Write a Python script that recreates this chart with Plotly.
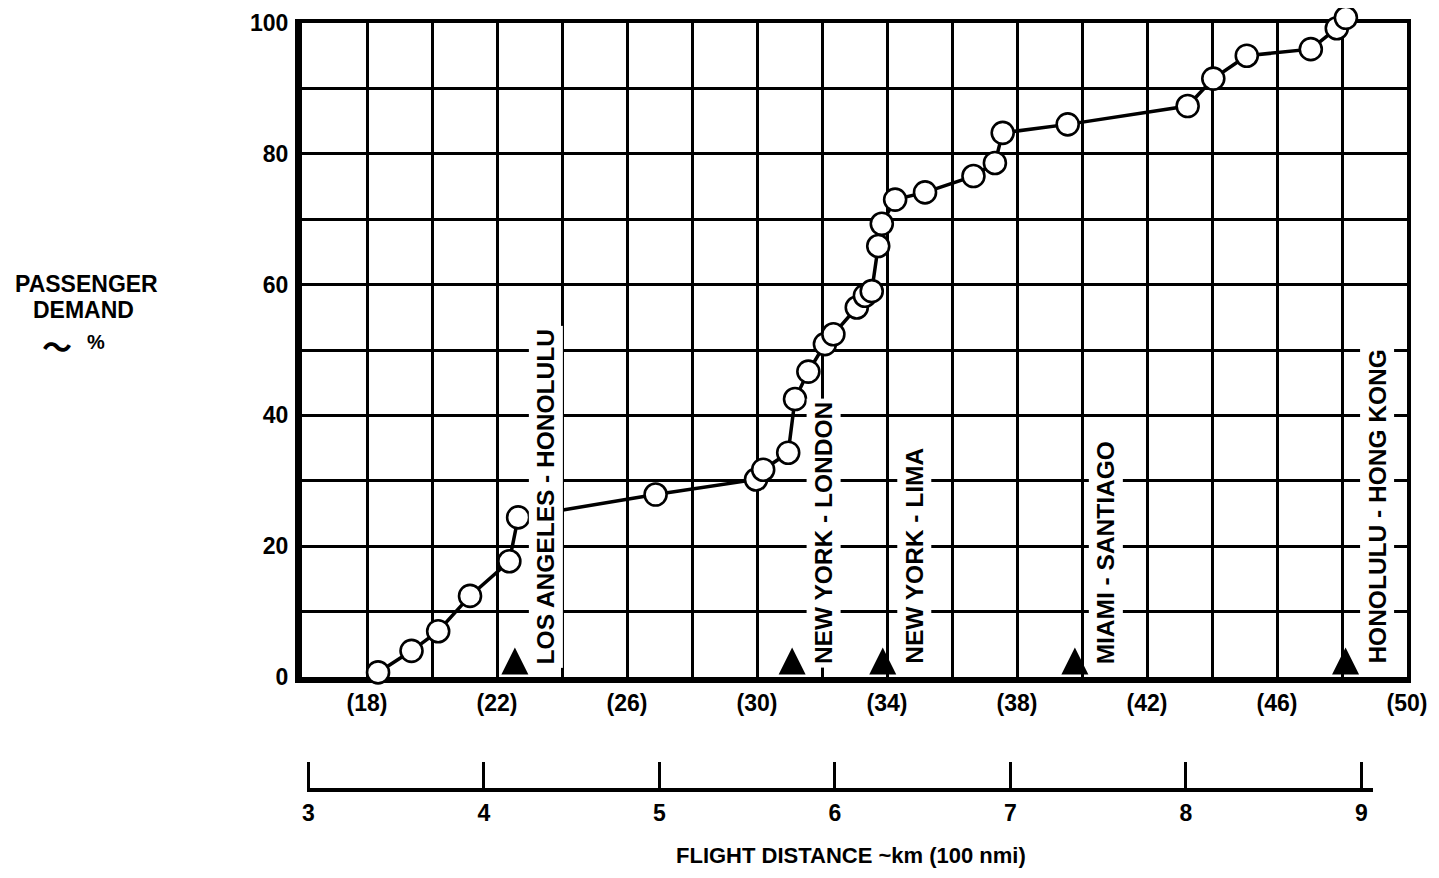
import plotly.graph_objects as go

# ---------------- data ----------------
distance_nmi = [1834, 1937, 2019, 2117, 2238, 2265, 2688, 2997, 3019, 3096,
                3117, 3158, 3209, 3235, 3307, 3332, 3353, 3373, 3384, 3425,
                3517, 3666, 3732, 3756, 3956, 4325, 4404, 4507, 4704, 4784, 4812]
demand_pct = [0.7, 4.0, 7.0, 12.4, 17.7, 24.4, 27.9, 30.2, 31.7, 34.3,
              42.5, 46.7, 50.9, 52.4, 56.5, 58.3, 59.0, 65.9, 69.3, 73.0,
              74.1, 76.6, 78.6, 83.2, 84.5, 87.3, 91.5, 95.0, 96.0, 99.2, 100.8]

route_names = ["LOS ANGELES - HONOLULU", "NEW YORK - LONDON", "NEW YORK - LIMA",
               "MIAMI - SANTIAGO", "HONOLULU - HONG KONG"]
route_nmi = [2255, 3108, 3387, 3978, 4811]

nmi_tick_vals = [1800, 2200, 2600, 3000, 3400, 3800, 4200, 4600, 5000]
nmi_tick_text = ["(18)", "(22)", "(26)", "(30)", "(34)", "(38)", "(42)", "(46)", "(50)"]
km_tick_vals = [3, 4, 5, 6, 7, 8, 9]          # thousands of km
km_tick_text = ["3", "4", "5", "6", "7", "8", "9"]
y_tick_vals = [0, 20, 40, 60, 80, 100]

# ---------------- layout geometry ----------------
PAGE_OFF = 8                      # default body margin of the html page
W, H = 1439 - 2 * PAGE_OFF, 878 - 2 * PAGE_OFF


def fx(px):   # reference page x -> figure x
    return px - PAGE_OFF


def fy(py):   # reference page y -> figure y
    return py - PAGE_OFF


ML = fx(302)
MR = W - fx(1407)
MT = 0
MB = 12
PLOT_W = W - ML - MR
PAPER_H = H - MT - MB
X_RANGE = [1600, 5000]
Y_RANGE = [0, 100]
NMI_TO_KM = 1.852
FONT = "Liberation Sans, Arial, sans-serif"


def paper_x(px):
    return (fx(px) - ML) / PLOT_W


def paper_y(py):
    return (H - MB - fy(py)) / PAPER_H


def px_to_nmi(px):
    return X_RANGE[0] + (fx(px) - ML) / PLOT_W * (X_RANGE[1] - X_RANGE[0])


Y_TOP_PX, Y_BOT_PX = 23, 677
main_y_dom = [paper_y(Y_BOT_PX), paper_y(Y_TOP_PX)]
# marker axis: same scale, but reaching up to the top of the paper so that
# the point just above 100 % is not hidden
marker_y_top = Y_RANGE[1] * (Y_BOT_PX - (PAGE_OFF + MT)) / (Y_BOT_PX - Y_TOP_PX)
km_line_y = paper_y(788)
km_dom = [paper_x(307), paper_x(1373)]
km_range = [px_to_nmi(307) * NMI_TO_KM / 1000, px_to_nmi(1373) * NMI_TO_KM / 1000]

fig = go.Figure()

# connecting line
fig.add_trace(go.Scatter(
    x=distance_nmi, y=demand_pct, mode="lines",
    line=dict(color="black", width=3.5),
    cliponaxis=False, showlegend=False, hoverinfo="skip"))

# route markers (on the overlay axes that carry the grid and top/right frame)
fig.add_trace(go.Scatter(
    x=route_nmi, y=[4.5] * len(route_nmi), mode="markers",
    marker=dict(symbol="arrow-up", size=27, color="black", line=dict(width=0)),
    xaxis="x3", yaxis="y2",
    cliponaxis=False, showlegend=False, hoverinfo="skip"))

# open circles
fig.add_trace(go.Scatter(
    x=distance_nmi, y=demand_pct, mode="markers",
    marker=dict(size=22, color="white", line=dict(color="black", width=2.6)),
    xaxis="x", yaxis="y4",
    cliponaxis=False, showlegend=False, hoverinfo="skip"))

# km scale (secondary distance axis)
fig.add_trace(go.Scatter(
    x=km_tick_vals, y=[0] * len(km_tick_vals), mode="markers",
    marker=dict(size=1, opacity=0), xaxis="x2", yaxis="y3",
    showlegend=False, hoverinfo="skip"))

annotations = []
for name, d in zip(route_names, route_nmi):
    annotations.append(dict(
        x=d, y=0, xref="x", yref="y", text=name, showarrow=False,
        textangle=-90, xanchor="center", yanchor="bottom",
        xshift=31, yshift=9, bgcolor="white", borderpad=3,
        font=dict(family=FONT, size=24.5, color="black", weight="bold")))

for txt, px, py in [("PASSENGER", 86, 284), ("DEMAND", 83, 310)]:
    annotations.append(dict(
        x=paper_x(px), y=paper_y(py), xref="paper", yref="paper", text=txt,
        showarrow=False, xanchor="center", yanchor="middle", borderpad=0,
        font=dict(family=FONT, size=23, color="black", weight="bold")))
annotations.append(dict(
    x=paper_x(57), y=paper_y(345), xref="paper", yref="paper",
    text="<span style='font-family:Noto Sans CJK JP'>〜</span>",
    showarrow=False, xanchor="center", yanchor="middle", borderpad=0,
    font=dict(family=FONT, size=30, color="black", weight="bold")))
annotations.append(dict(
    x=paper_x(96), y=paper_y(342), xref="paper", yref="paper",
    text="%", showarrow=False, xanchor="center", yanchor="middle", borderpad=0,
    font=dict(family=FONT, size=20, color="black", weight="bold")))
annotations.append(dict(
    x=paper_x(851), y=paper_y(869), xref="paper", yref="paper",
    text="FLIGHT DISTANCE ~km (100 nmi)", showarrow=False,
    xanchor="center", yanchor="bottom", borderpad=0,
    font=dict(family=FONT, size=22, color="black", weight="bold")))

tickfont = dict(family=FONT, size=23, color="black", weight="bold")

fig.update_layout(
    width=W, height=H,
    margin=dict(l=ML, r=MR, t=MT, b=MB, autoexpand=False),
    paper_bgcolor="white", plot_bgcolor="rgba(0,0,0,0)",
    font=dict(family=FONT, color="black"),
    showlegend=False,
    annotations=annotations,
    xaxis=dict(
        domain=[0, 1], range=X_RANGE, anchor="y",
        tickmode="array", tickvals=nmi_tick_vals, ticktext=nmi_tick_text,
        ticks="", showgrid=False, zeroline=False,
        showline=True, linecolor="black", linewidth=6,
        tickfont=tickfont, ticklabelstandoff=0, automargin=False),
    yaxis=dict(
        domain=main_y_dom, range=Y_RANGE, anchor="x",
        tickmode="array", tickvals=y_tick_vals,
        ticks="", showgrid=False, zeroline=False,
        showline=True, linecolor="black", linewidth=7,
        tickfont=tickfont, ticklabelstandoff=2, automargin=False),
    xaxis3=dict(
        overlaying="x", side="top", anchor="y2", range=X_RANGE,
        tickmode="linear", tick0=X_RANGE[0], dtick=200,
        showticklabels=False, ticks="", zeroline=False,
        showgrid=True, gridcolor="black", gridwidth=2.6,
        showline=True, linecolor="black", linewidth=4),
    yaxis2=dict(
        overlaying="y", side="right", anchor="x3", range=Y_RANGE,
        tickmode="linear", tick0=0, dtick=10,
        showticklabels=False, ticks="", zeroline=False,
        showgrid=True, gridcolor="black", gridwidth=2.6,
        showline=True, linecolor="black", linewidth=4),
    yaxis4=dict(
        domain=[main_y_dom[0], 1], range=[Y_RANGE[0], marker_y_top], anchor="x",
        visible=False, showgrid=False, zeroline=False),
    xaxis2=dict(
        domain=km_dom, range=km_range, anchor="y3",
        tickmode="array", tickvals=km_tick_vals, ticktext=km_tick_text,
        ticks="inside", ticklen=26, tickwidth=2.5, tickcolor="black",
        showgrid=False, zeroline=False,
        showline=True, linecolor="black", linewidth=3.5,
        tickfont=tickfont, ticklabelstandoff=2, automargin=False),
    yaxis3=dict(
        domain=[km_line_y, km_line_y + 0.04], anchor="x2", range=[0, 1],
        visible=False, showgrid=False, zeroline=False),
)

fig.write_html("out.html")
